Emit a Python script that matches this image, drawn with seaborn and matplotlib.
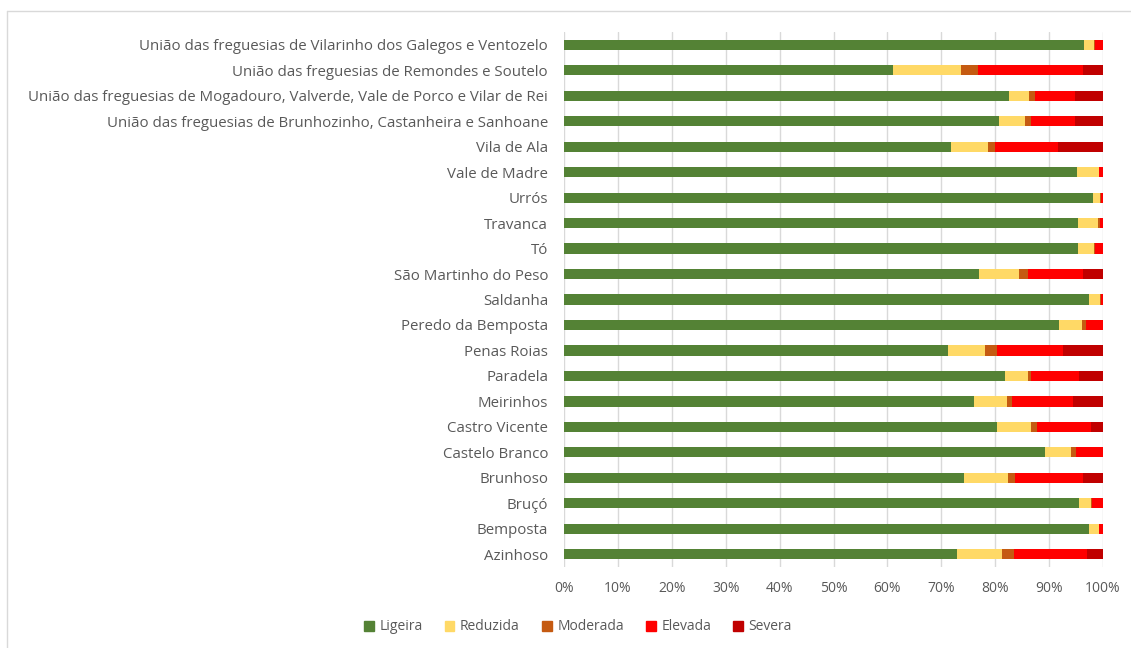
import pandas as pd
import numpy as np
import matplotlib
matplotlib.use('Agg')
import matplotlib.pyplot as plt
import seaborn as sns
from matplotlib.patches import Patch
from matplotlib.lines import Line2D

freguesias = [
    'União das freguesias de Vilarinho dos Galegos e Ventozelo',
    'União das freguesias de Remondes e Soutelo',
    'União das freguesias de Mogadouro, Valverde, Vale de Porco e Vilar de Rei',
    'União das freguesias de Brunhozinho, Castanheira e Sanhoane',
    'Vila de Ala', 'Vale de Madre', 'Urrós', 'Travanca', 'Tó',
    'São Martinho do Peso', 'Saldanha', 'Peredo da Bemposta', 'Penas Roias',
    'Paradela', 'Meirinhos', 'Castro Vicente', 'Castelo Branco', 'Brunhoso',
    'Bruçó', 'Bemposta', 'Azinhoso',
]
ligeira  = [96.5, 61.0, 82.6, 80.7, 71.8, 95.1, 98.1, 95.3, 95.3, 77.0, 97.4, 91.8, 71.2, 81.9, 76.0, 80.3, 89.2, 74.2, 95.6, 97.4, 72.9]
reduzida = [1.9, 12.6, 3.7, 4.8, 6.8, 4.1, 1.4, 3.7, 3.1, 7.5, 2.1, 4.3, 7.0, 4.1, 6.1, 6.3, 4.8, 8.1, 2.1, 1.8, 8.4]
moderada = [0.1, 3.2, 1.1, 1.1, 1.4, 0.0, 0.1, 0.4, 0.1, 1.5, 0.1, 0.8, 2.1, 0.6, 1.0, 1.2, 1.0, 1.4, 0.2, 0.1, 2.1]
elevada  = [1.5, 19.5, 7.4, 8.2, 11.6, 0.8, 0.4, 0.6, 1.5, 10.3, 0.4, 3.1, 12.3, 9.0, 11.4, 9.9, 5.0, 12.6, 2.1, 0.7, 13.7]
severa   = [0.0, 3.7, 5.2, 5.2, 8.4, 0.0, 0.0, 0.0, 0.0, 3.7, 0.0, 0.0, 7.4, 4.4, 5.5, 2.3, 0.0, 3.7, 0.0, 0.0, 2.9]

classes = ['Ligeira', 'Reduzida', 'Moderada', 'Elevada', 'Severa']
cores = ['#548235', '#FFD966', '#C55A11', '#FF0000', '#C00000']

df = pd.DataFrame({'Freguesia': freguesias, 'Ligeira': ligeira, 'Reduzida': reduzida,
                   'Moderada': moderada, 'Elevada': elevada, 'Severa': severa})
tot = df[classes].sum(axis=1)
for c in classes:
    df[c] = df[c] / tot
cum = df[classes].cumsum(axis=1).assign(Freguesia=df['Freguesia'])

sns.set_style('white')
plt.rcParams['font.family'] = ['Open Sans', 'DejaVu Sans']

fig = plt.figure(figsize=(11.31, 6.48), dpi=100)
ax = fig.add_axes([564/1131, 1-567/648, 539/1131, 535/648])

# draw cumulative layers from the right-most class back to the first
for c, cor in reversed(list(zip(classes, cores))):
    sns.barplot(data=cum, x=c, y='Freguesia', orient='h', color=cor,
                width=0.4, ax=ax, saturation=1, linewidth=0)

ax.set_xlim(0, 1)
ax.set_ylim(20.5, -0.5)
ax.set_xticks(np.arange(0, 1.01, 0.1))
ax.set_xticklabels([f'{int(round(v*100))}%' for v in np.arange(0, 1.01, 0.1)])
ax.set_xlabel('')
ax.set_ylabel('')
ax.grid(axis='x', color='#D9D9D9', linewidth=1)
ax.set_axisbelow(True)
for s in ax.spines.values():
    s.set_visible(False)
ax.tick_params(axis='both', length=0, colors='#595959', labelsize=10)
ax.tick_params(axis='y', pad=11.5, labelsize=10.8)
ax.tick_params(axis='x', pad=10)

handles = [Patch(facecolor=cor, edgecolor=cor) for cor in cores]
fig.legend(handles, classes, loc='center', bbox_to_anchor=(578/1131, 1-627/648),
           ncol=5, frameon=False, fontsize=10, handlelength=0.7, handleheight=0.7,
           columnspacing=1.6, handletextpad=0.4, labelcolor='#595959')

# chart area border (top and left edges visible)
fig.add_artist(Line2D([7/1131, 1], [1-11/648, 1-11/648], color='#D9D9D9', lw=1))
fig.add_artist(Line2D([7/1131, 7/1131], [0, 1-11/648], color='#D9D9D9', lw=1))

fig.savefig('out.png', dpi=100)
